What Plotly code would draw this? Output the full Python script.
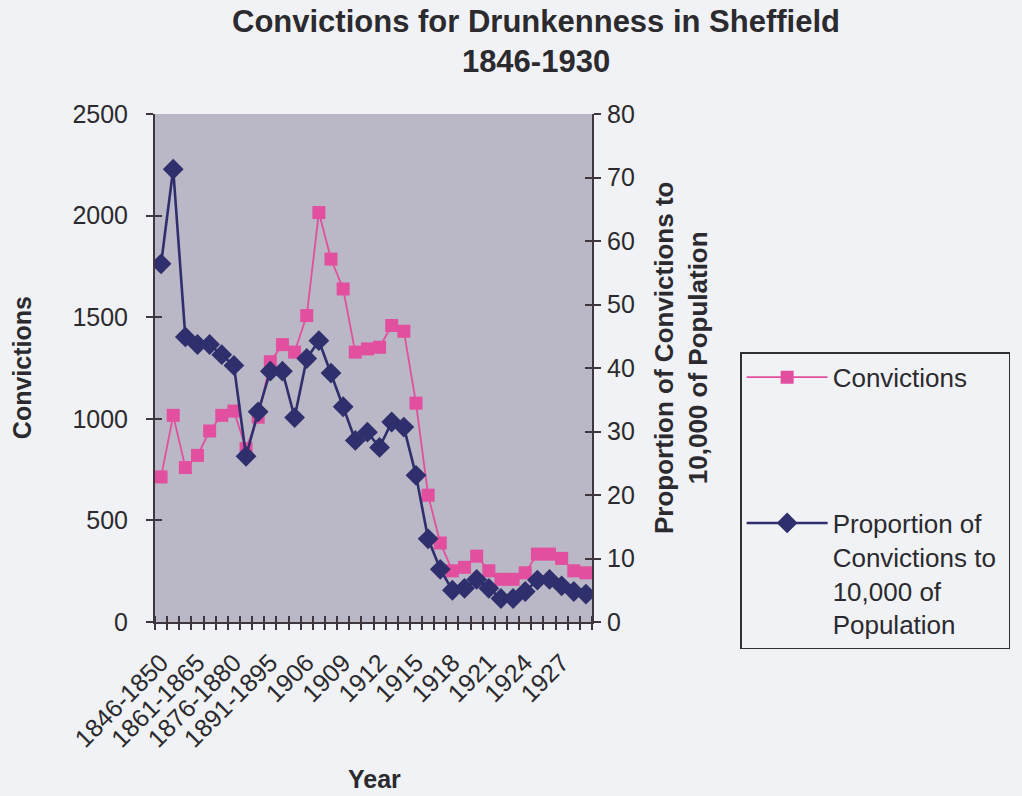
import plotly.graph_objects as go

# Periods: five-year groups up to 1905, then single years
periods = [
    "1846-1850", "1851-1855", "1856-1860", "1861-1865", "1866-1870", "1871-1875",
    "1876-1880", "1881-1885", "1886-1890", "1891-1895", "1896-1900", "1901-1905",
    "1906", "1907", "1908", "1909", "1910", "1911", "1912", "1913", "1914", "1915",
    "1916", "1917", "1918", "1919", "1920", "1921", "1922", "1923", "1924", "1925",
    "1926", "1927", "1928", "1929",
]

convictions = [
    714, 1017, 760, 820, 940, 1017, 1038, 853, 1008, 1281, 1365, 1328,
    1508, 2015, 1786, 1639, 1328, 1344, 1352, 1459, 1431, 1077, 624, 389,
    252, 269, 324, 252, 210, 210, 242, 334, 334, 313, 252, 242,
]

per_10000 = [
    56.4, 71.3, 44.9, 43.7, 43.7, 42.1, 40.4, 26.1, 33.1, 39.5, 39.5, 32.2,
    41.5, 44.3, 39.2, 33.9, 28.6, 29.9, 27.5, 31.5, 30.7, 23.1, 13.1, 8.3,
    5.0, 5.3, 6.7, 5.3, 3.7, 3.7, 4.8, 6.6, 6.7, 5.7, 4.8, 4.4,
]

conv_ticks = [0, 500, 1000, 1500, 2000, 2500]
rate_ticks = [0, 10, 20, 30, 40, 50, 60, 70, 80]

PAGE = "#f1f2f6"
PLOT_BG = "#bab7c6"
INK = "#2b2a2e"
AXIS = "#3f3640"
PINK = "#e24f9e"
NAVY = "#2e2f6c"
FONT = "Liberation Sans, Arial, sans-serif"
NBSP = "\u00a0"

idx = list(range(len(periods)))
label_pos = idx[::3]
label_txt = [periods[i] for i in label_pos]

fig = go.Figure()

fig.add_trace(go.Scatter(
    x=idx, y=convictions, name="Convictions", legendgroup="a",
    mode="lines+markers", xaxis="x", yaxis="y",
    line=dict(color=PINK, width=1.8),
    marker=dict(symbol="square", size=13, color=PINK),
))
fig.add_trace(go.Scatter(
    x=idx, y=per_10000,
    name="Proportion of<br>Convictions to" + NBSP + "<br>10,000 of<br>Population",
    legendgroup="b",
    mode="lines+markers", xaxis="x", yaxis="y2",
    line=dict(color=NAVY, width=2.6),
    marker=dict(symbol="diamond", size=16, color=NAVY),
))

# empty traces so the overlay axes (inner halves of the crossing ticks) are drawn
for xa, ya in [("x2", "y"), ("x", "y3"), ("x", "y4")]:
    fig.add_trace(go.Scatter(x=[None], y=[None], xaxis=xa, yaxis=ya,
                             showlegend=False, hoverinfo="skip"))

xrange = [-0.5, len(periods) - 0.5]
tickfont = dict(family=FONT, size=25, color=INK)

fig.update_layout(
    width=1022, height=796,
    margin=dict(l=155, r=430, t=114, b=174, autoexpand=False),
    paper_bgcolor=PAGE, plot_bgcolor=PLOT_BG,
    font=dict(family=FONT, color=INK, size=24),
    xaxis=dict(
        range=xrange, showgrid=False, zeroline=False,
        showline=True, linecolor=AXIS, linewidth=2,
        tickmode="array", tickvals=label_pos, ticktext=label_txt,
        ticks="", tickangle=-45, tickfont=tickfont, ticklabelstandoff=14,
        minor=dict(tick0=-0.5, dtick=1, ticks="outside", ticklen=6,
                   tickwidth=2, tickcolor=AXIS, showgrid=False),
        anchor="y",
    ),
    xaxis2=dict(
        range=xrange, overlaying="x", anchor="y", side="bottom",
        showgrid=False, zeroline=False, showline=False, showticklabels=False,
        ticks="", minor=dict(tick0=-0.5, dtick=1, ticks="inside", ticklen=6,
                             tickwidth=2, tickcolor=AXIS, showgrid=False),
    ),
    yaxis=dict(
        range=[0, 2500], tickvals=conv_ticks, showgrid=False, zeroline=False,
        showline=True, linecolor=AXIS, linewidth=2,
        ticks="outside", ticklen=7, tickwidth=2, tickcolor=AXIS,
        tickfont=tickfont, ticklabelstandoff=13, anchor="x",
    ),
    yaxis2=dict(
        range=[0, 80], tickvals=rate_ticks, overlaying="y", side="right",
        anchor="x", showgrid=False, zeroline=False,
        showline=True, linecolor=AXIS, linewidth=2,
        ticks="outside", ticklen=7, tickwidth=2, tickcolor=AXIS,
        tickfont=tickfont, ticklabelstandoff=1,
    ),
    yaxis3=dict(
        range=[0, 2500], tickvals=conv_ticks, overlaying="y", side="left",
        anchor="x", showgrid=False, zeroline=False, showline=False,
        showticklabels=False, ticks="inside", ticklen=7, tickwidth=2,
        tickcolor=AXIS,
    ),
    yaxis4=dict(
        range=[0, 80], tickvals=rate_ticks, overlaying="y", side="right",
        anchor="x", showgrid=False, zeroline=False, showline=False,
        showticklabels=False, ticks="inside", ticklen=7, tickwidth=2,
        tickcolor=AXIS,
    ),
    legend=dict(
        x=1.339, y=0.531, xanchor="left", yanchor="top",
        bgcolor=PAGE, bordercolor="#303030", borderwidth=1.5,
        font=dict(family=FONT, size=26, color=INK),
        itemwidth=81, tracegroupgap=109, traceorder="grouped",
        valign="top",
    ),
    annotations=[
        dict(text="<b>Convictions for Drunkenness in Sheffield<br>1846-1930</b>",
             x=0.872, y=1.1437, xref="paper", yref="paper",
             xanchor="center", yanchor="middle", showarrow=False,
             font=dict(family=FONT, size=31, color=INK)),
        dict(text="<b>Convictions</b>", x=-0.304, y=0.5, xref="paper", yref="paper",
             xanchor="center", yanchor="middle", textangle=-90, showarrow=False,
             font=dict(size=25, color=INK)),
        dict(text="<b>Year</b>", x=0.503, y=-0.309, xref="paper", yref="paper",
             xanchor="center", yanchor="middle", showarrow=False,
             font=dict(size=25, color=INK)),
        dict(text="<b>Proportion of Convictions to<br>10,000 of Population</b>",
             x=1.204, y=0.52, xref="paper", yref="paper", textangle=-90,
             xanchor="center", yanchor="middle", showarrow=False,
             font=dict(size=26, color=INK)),
    ],
)

fig.write_html("out.html")
